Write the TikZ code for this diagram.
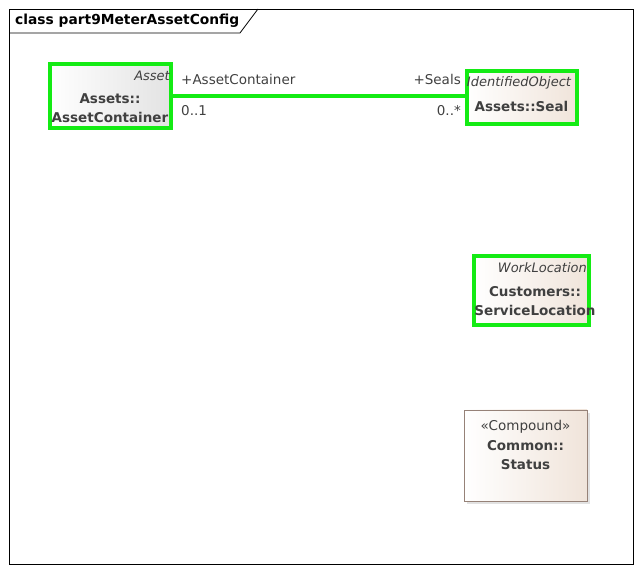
\documentclass[tikz,border=0pt]{standalone}
\usepackage{fontspec}
\setmainfont{DejaVu Sans}
\usetikzlibrary{positioning, shadows}

\definecolor{umlgreen}{RGB}{20,235,20}
\definecolor{umlbeige}{RGB}{240,228,218}
\definecolor{umltext}{RGB}{64,64,64}
\definecolor{umledge}{RGB}{150,130,120}

\begin{document}
\begin{tikzpicture}[x=1pt, y=-1pt,
    every node/.style={font=\fontsize{13.5}{19}\selectfont, text=umltext, inner sep=0pt},
    classbox/.style={rectangle, draw=umlgreen, line width=4pt, left color=white, right color=umlbeige,
        drop shadow={shadow xshift=2pt, shadow yshift=-2pt, fill=gray!35}},
    plainbox/.style={rectangle, draw=umledge, line width=0.9pt, left color=white, right color=umlbeige,
        drop shadow={shadow xshift=3pt, shadow yshift=-3pt, fill=gray!45}},
    stereo/.style={font=\fontsize{13}{19}\selectfont\itshape},
    cname/.style={font=\fontsize{13.5}{19}\selectfont\bfseries, align=center},
    role/.style={font=\fontsize{13.5}{19}\selectfont}
]
    \useasboundingbox (0,0) rectangle (641,572);

    % Frame
    \draw[line width=0.8pt] (9,9) rectangle (633,564);
    \draw[line width=0.8pt] (9,33) -- (240,33) -- (258,9);
    \node[anchor=west, font=\fontsize{13.8}{16}\selectfont\bfseries, text=black] (title) at (15,21) {class part9MeterAssetConfig};

    % Classes
    \node[classbox, minimum width=121, minimum height=64, left color=white, right color=gray!22] (container) at (110,96.5) {};
    \node[stereo, anchor=east] (containerst) at (170,76) {Asset};
    \node[cname] (containername) at (110,108.5) {Assets::\\AssetContainer};

    \node[classbox, minimum width=110, minimum height=53] (seal) at (521.5,98) {};
    \node[stereo] (sealst) at (519,83) {IdentifiedObject};
    \node[cname] (sealname) at (521.5,106) {Assets::Seal};

    \node[classbox, minimum width=115, minimum height=69] (location) at (531,291) {};
    \node[stereo, anchor=east] (locationst) at (587,268) {WorkLocation};
    \node[cname] (locationname) at (535,301) {Customers::\\ServiceLocation};

    \node[plainbox, minimum width=123, minimum height=91] (status) at (525.5,455.5) {};
    \node[role] (statusst) at (525.5,427) {«Compound»};
    \node[cname] (statusname) at (525.5,455.5) {Common::\\Status};

    % Association
    \draw[umlgreen, line width=4pt] (container.east |- 0,96) -- (seal.west |- 0,96);
    \node[role, anchor=west] (srcrole) at (181,79) {+AssetContainer};
    \node[role, anchor=west] (srcmult) at (181,111) {0..1};
    \node[role, anchor=east] (dstrole) at (461,79) {+Seals};
    \node[role, anchor=east] (dstmult) at (461,111) {0..*};
\end{tikzpicture}
\end{document}
